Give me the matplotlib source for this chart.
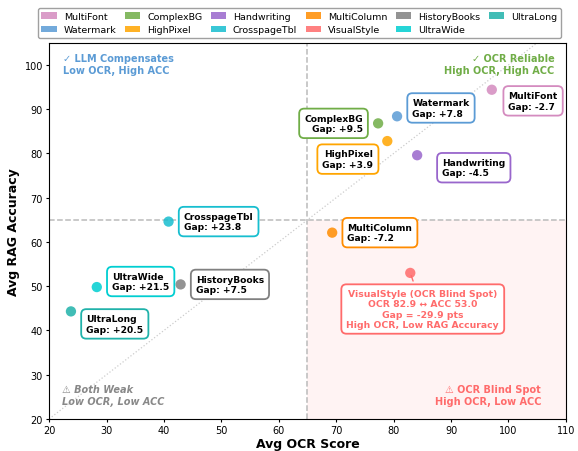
import matplotlib
matplotlib.use("Agg")
import matplotlib.pyplot as plt
from matplotlib.patches import Patch

# data
names = ["MultiFont", "Watermark", "ComplexBG", "HighPixel", "Handwriting",
         "CrosspageTbl", "MultiColumn", "VisualStyle", "HistoryBooks",
         "UltraWide", "UltraLong"]
ocr = [97.1, 80.6, 77.3, 78.9, 84.1, 40.8, 69.3, 82.9, 42.9, 28.3, 23.8]
acc = [94.4, 88.4, 86.8, 82.8, 79.6, 64.6, 62.1, 53.0, 50.4, 49.8, 44.3]
colors = ["#D48BBF", "#5B9BD5", "#70AD47", "#FFA500", "#9966CC",
          "#17BECF", "#FF8C00", "#FF6B6B", "#808080", "#00CED1", "#20B2AA"]

# label placement: (dx, dy in points, horizontal alignment)
offsets = {
    "MultiFont": (12, -8, "left"),
    "Watermark": (11, 6, "left"),
    "ComplexBG": (-11, 0, "right"),
    "HighPixel": (-10, -13, "right"),
    "Handwriting": (18, -9, "left"),
    "CrosspageTbl": (11, 0, "left"),
    "MultiColumn": (11, 0, "left"),
    "HistoryBooks": (11, 0, "left"),
    "UltraWide": (11, 4, "left"),
    "UltraLong": (11, -9, "left"),
}

fig = plt.figure(figsize=(5.78, 4.52), dpi=100)
ax = fig.add_axes([0.085, 0.071, 0.894, 0.832])

ax.set_xlim(20, 110)
ax.set_ylim(20, 105)

# quadrants
ax.fill_between([65, 110], 20, 65, color="#FF6B6B", alpha=0.08, lw=0, zorder=0)
ax.axvline(65, color="#BBBBBB", ls="--", lw=1.1, zorder=1)
ax.axhline(65, color="#BBBBBB", ls="--", lw=1.1, zorder=1)
ax.plot([20, 105], [20, 105], color="#CCCCCC", ls=":", lw=0.9, zorder=1)

for n, x, y, c in zip(names, ocr, acc, colors):
    ax.scatter(x, y, s=55, color=c, alpha=0.85, edgecolor="none", zorder=3)
    gap = y - x
    if n == "VisualStyle":
        txt = (f"{n} (OCR Blind Spot)\nOCR {x:.1f} \u2194 ACC {y:.1f}\n"
               f"Gap = {gap:.1f} pts\nHigh OCR, Low RAG Accuracy")
        ax.annotate(txt, (x, y), xytext=(9, -26), textcoords="offset points",
                    ha="center", va="center", fontsize=6.7, fontweight="bold",
                    color=c, linespacing=1.15,
                    bbox=dict(boxstyle="round,pad=0.55", fc="white", ec=c, lw=1.3),
                    arrowprops=dict(arrowstyle="-", color=c, lw=1), zorder=4)
        continue
    dx, dy, ha = offsets[n]
    ax.annotate(f"{n}\nGap: {gap:+.1f}", (x, y), xytext=(dx, dy),
                textcoords="offset points", ha=ha, va="center", fontsize=6.6,
                fontweight="bold", multialignment=ha,
                bbox=dict(boxstyle="round,pad=0.55", fc="white", ec=c, lw=1.3),
                zorder=4)

# quadrant captions
ax.text(0.027, 0.972, "\u2713 LLM Compensates\nLow OCR, High ACC", transform=ax.transAxes,
        ha="left", va="top", fontsize=7, fontweight="bold", color="#5B9BD5")
ax.text(0.978, 0.972, "\u2713 OCR Reliable\nHigh OCR, High ACC", transform=ax.transAxes,
        ha="right", va="top", fontsize=7, fontweight="bold", color="#70AD47",
        multialignment="right")
ax.text(0.025, 0.035, "\u26a0 Both Weak\nLow OCR, Low ACC", transform=ax.transAxes,
        ha="left", va="bottom", fontsize=7, fontweight="bold", style="italic",
        color="#888888")
ax.text(0.952, 0.035, "\u26a0 OCR Blind Spot\nHigh OCR, Low ACC", transform=ax.transAxes,
        ha="right", va="bottom", fontsize=7, fontweight="bold", color="#FF6B6B",
        multialignment="right")

ax.set_xlabel("Avg OCR Score", fontsize=9, fontweight="bold", labelpad=1)
ax.set_ylabel("Avg RAG Accuracy", fontsize=9, fontweight="bold", labelpad=3)
ax.tick_params(labelsize=7, length=2.5, pad=2)

handles = [Patch(facecolor=c, alpha=0.85, label=n) for n, c in zip(names, colors)]
fig.legend(handles=handles, loc="upper left", bbox_to_anchor=(0.057, 0.991),
           ncol=6, fontsize=6.8, frameon=True, edgecolor="#888888",
           handlelength=1.6, handleheight=0.75, handletextpad=0.75,
           columnspacing=0.9, borderpad=0.4, labelspacing=0.5, fancybox=True)

fig.savefig("out.png", dpi=100)
